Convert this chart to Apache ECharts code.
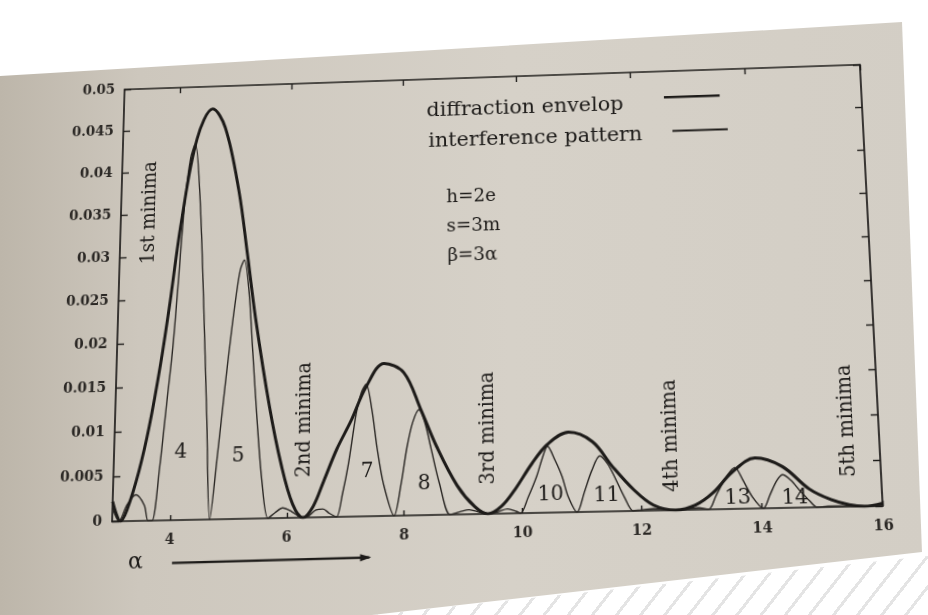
<!DOCTYPE html>
<html><head><meta charset="utf-8">
<script src="https://cdn.jsdelivr.net/npm/echarts@6/dist/echarts.min.js"></script>
<style>
html,body{margin:0;padding:0;width:928px;height:615px;overflow:hidden;background:#fff;}
#stripes{position:absolute;left:0;top:0;width:928px;height:615px;
 background:repeating-linear-gradient(-52deg,#ffffff 0 16px,#e4e4e4 16px 19px);
 clip-path:polygon(372px 615px,928px 556px,928px 615px);}
#paper{position:absolute;left:0;top:0;width:928px;height:615px;
 background:linear-gradient(90deg,#bdb6aa 0%,#cdc7bd 15%,#d6d1c8 55%,#d3cec5 100%);
 clip-path:polygon(0 76px,902px 22px,922px 552px,372px 615px,0 615px);}
#chart{position:absolute;left:0;top:0;width:928px;height:615px;
 transform:rotate(-0.46deg) skewY(-0.87deg) perspective(1000px) rotateX(6.1deg) rotateY(-1.8deg);}
</style></head><body>
<div id="stripes"></div><div id="paper"></div><div id="chart"></div>
<script>
// ---- data ----
const alphaEnvelope = [3.0,3.07,3.14,3.25,3.44,3.6,3.77,3.9,4.08,4.33,4.6,4.83,5.09,5.26,5.42,5.68,5.9,6.1,6.28,6.45,6.63,6.85,7.09,7.35,7.66,8.0,8.29,8.56,8.9,9.2,9.42,9.65,9.88,10.17,10.44,10.8,11.2,11.53,11.88,12.2,12.57,12.9,13.2,13.53,13.92,14.37,14.8,15.15,15.45,15.7,16.0];
const envelopeValues = [0.0022,0.0008,0,0.0012,0.0055,0.0105,0.0175,0.024,0.034,0.0438,0.0473,0.045,0.0375,0.030,0.0225,0.0125,0.0058,0.0015,0,0.0012,0.004,0.0075,0.0106,0.0144,0.017,0.0159,0.0117,0.0075,0.0032,0.0008,0,0.0008,0.0026,0.0054,0.0075,0.0088,0.0077,0.0049,0.0023,0.0006,0,0.0005,0.0018,0.004,0.0055,0.0045,0.002,0.0008,0.0002,0,0.0003];

const alphaInterference = [3.0,3.12,3.25,3.4,3.55,3.62,3.69,3.8,3.9,3.98,4.05,4.13,4.22,4.3,4.4,4.5,4.6,4.68,4.8,4.9,5.0,5.07,5.14,5.21,5.3,5.37,5.47,5.57,5.68,5.8,5.93,6.08,6.22,6.28,6.36,6.5,6.62,6.73,6.85,6.95,7.05,7.18,7.27,7.35,7.45,7.54,7.65,7.83,7.95,8.05,8.15,8.26,8.36,8.46,8.6,8.78,8.95,9.1,9.28,9.42,9.58,9.75,9.9,9.97,10.1,10.25,10.35,10.44,10.56,10.68,10.77,10.92,11.05,11.18,11.32,11.45,11.58,11.72,11.86,12.0,12.2,12.4,12.57,12.75,12.95,13.12,13.25,13.4,13.5,13.58,13.7,13.85,14.03,14.15,14.27,14.37,14.5,14.65,14.8,14.92,15.1,15.3,15.7,16.0];
const interferenceValues = [0.0015,0,0.0018,0.0029,0.0017,0,0,0.006,0.0135,0.0195,0.027,0.036,0.0415,0.0432,0.037,0.025,0.011,0,0.0075,0.0145,0.021,0.025,0.0282,0.0293,0.0255,0.0195,0.011,0.004,0,0.0006,0.0011,0.0007,0.0001,0,0.0001,0.0008,0.0009,0.0004,0,0.0025,0.0058,0.0114,0.0138,0.0147,0.0118,0.0075,0.0035,0,0.0035,0.0075,0.0103,0.0117,0.0102,0.0074,0.0035,0,0.0003,0.0005,0.0002,0,0.0002,0.0005,0.0002,0,0.0017,0.004,0.006,0.0073,0.0058,0.0039,0.0018,0,0.0022,0.0045,0.0061,0.0052,0.0035,0.0015,0,0.0001,0.0002,0.0001,0,0.0001,0.0002,0,0.0015,0.0032,0.0041,0.0045,0.0032,0.0013,0,0.0015,0.003,0.0036,0.003,0.0018,0.0007,0,0.0001,0.0001,0,0.0001];

const xTickValues = [4,6,8,10,12,14,16];
const seriesNames = ['diffraction envelop','interference pattern'];
const minimaLabels = ['1st minima','2nd minima','3rd minima','4th minima','5th minima'];
const orderLabels = ['4','5','7','8','10','11','13','14'];
const parameterLabels = ['h=2e','s=3m','\u03B2=3\u03B1'];

// ---- layout (annotation anchors in data coordinates) ----
const layout = {
  minima: [[3.51,0.0352],[6.29,0.0109],[9.44,0.0095],[12.53,0.0082],[15.48,0.0094]],
  orders: [[4.16,0.0075],[5.15,0.0070],[7.37,0.0049],[8.34,0.0034],[10.48,0.0019],[11.42,0.0017],[13.61,0.0012],[14.56,0.0010]],
  legendText: [[8.41,0.0462],[8.44,0.0426]],
  legendLine: [[12.58,13.55,0.0469],[12.71,13.67,0.0429]],
  params: [[8.75,0.0359],[8.75,0.0325],[8.76,0.0291]],
  alphaLabel: [3.42,-0.0046],
  arrow: [[4.05,-0.0047],[7.41,-0.0045]]
};

const ink = '#1d1b19';
const serif = 'DejaVu Serif';
const zip = (a,b)=>a.map((v,i)=>[v,b[i]]);

const chart = echarts.init(document.getElementById('chart'), null, {renderer:'canvas'});
const axisLine = {show:true, onZero:false, lineStyle:{color:ink, width:1.7}};
chart.setOption({
  animation:false,
  backgroundColor:'transparent',
  grid:{left:114, right:61, top:71, bottom:104},
  xAxis:[
    {type:'value', min:3, max:16, position:'bottom', axisLine,
     axisTick:{show:true, inside:true, length:5, customValues:xTickValues, lineStyle:{color:ink,width:1.4}},
     axisLabel:{customValues:xTickValues, fontFamily:serif, fontSize:14, fontWeight:'bold', color:'#2a2724', margin:12},
     splitLine:{show:false}},
    {type:'value', min:3, max:16, position:'top', axisLine,
     axisTick:{show:true, inside:true, length:6, customValues:xTickValues, lineStyle:{color:ink,width:1.4}},
     axisLabel:{show:false}, splitLine:{show:false}}
  ],
  yAxis:[
    {type:'value', min:0, max:0.05, interval:0.005, axisLine,
     axisTick:{show:true, inside:true, length:7, lineStyle:{color:ink,width:1.4}},
     axisLabel:{fontFamily:serif, fontSize:14, fontWeight:'bold', color:'#2a2724', margin:10, padding:[8,0,0,0]},
     splitLine:{show:false}},
    {type:'value', min:0, max:0.05, interval:0.005, position:'right', axisLine,
     axisTick:{show:true, inside:true, length:7, lineStyle:{color:ink,width:1.4}},
     axisLabel:{show:false}, splitLine:{show:false}}
  ],
  series:[
    {name:seriesNames[1], type:'line', xAxisIndex:0, yAxisIndex:0, data:zip(alphaInterference,interferenceValues),
     smooth:0.3, showSymbol:false, lineStyle:{color:'#2a2724', width:1.4}, z:2},
    {name:seriesNames[0], type:'line', xAxisIndex:0, yAxisIndex:0, data:zip(alphaEnvelope,envelopeValues),
     smooth:0.35, showSymbol:false, lineStyle:{color:ink, width:3}, z:3}
  ]
});

const px = (a,v)=>chart.convertToPixel({xAxisIndex:0,yAxisIndex:0},[a,v]);
const g = [];
const txt = (p,text,size,extra)=>Object.assign({type:'text', x:p[0], y:p[1], z:10,
  style:{text, fontFamily:serif, fontSize:size, fill:ink, align:'center', verticalAlign:'middle'}}, extra||{});

minimaLabels.forEach((t,i)=>g.push(txt(px(...layout.minima[i]), t, 21, {rotation:Math.PI/2, scaleX:0.9})));
orderLabels.forEach((t,i)=>g.push(txt(px(...layout.orders[i]), t, 20)));
seriesNames.forEach((t,i)=>{
  const o = txt(px(...layout.legendText[i]), t, 21); o.style.align='left'; g.push(o);
  const L = layout.legendLine[i]; const a = px(L[0],L[2]), b = px(L[1],L[2]);
  g.push({type:'line', z:10, shape:{x1:a[0],y1:a[1],x2:b[0],y2:b[1]}, style:{stroke:ink, lineWidth:i===0?2.6:1.8}});
});
parameterLabels.forEach((t,i)=>{const o = txt(px(...layout.params[i]), t, 18.5); o.style.align='left'; g.push(o);});
g.push(txt(px(...layout.alphaLabel), '\u03B1', 22));
const s = px(...layout.arrow[0]), e = px(...layout.arrow[1]);
g.push({type:'line', z:10, shape:{x1:s[0],y1:s[1],x2:e[0],y2:e[1]}, style:{stroke:ink, lineWidth:2.2}});
const ang = Math.atan2(e[1]-s[1], e[0]-s[0]);
const head = [[e[0]+2*Math.cos(ang), e[1]+2*Math.sin(ang)],
  [e[0]-9*Math.cos(ang)+3.5*Math.sin(ang), e[1]-9*Math.sin(ang)-3.5*Math.cos(ang)],
  [e[0]-9*Math.cos(ang)-3.5*Math.sin(ang), e[1]-9*Math.sin(ang)+3.5*Math.cos(ang)]];
g.push({type:'polygon', z:10, shape:{points:head}, style:{fill:ink}});
chart.setOption({graphic:g});
</script></body></html>
